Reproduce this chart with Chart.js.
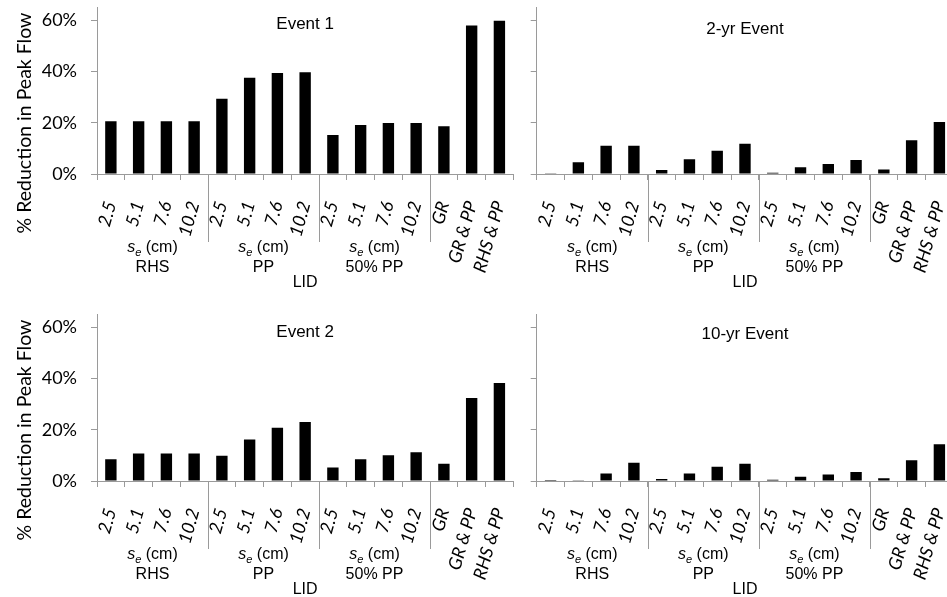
<!DOCTYPE html>
<html>
<head>
<meta charset="utf-8">
<script src="https://cdn.jsdelivr.net/npm/chart.js@4"></script>
<style>
    html, body { margin: 0; padding: 0; background: #fff; overflow: hidden; width: 947px; height: 597px; }
    body { position: relative; }
    canvas { position: absolute; }
</style>
</head>
<body>
<canvas id="event1"></canvas>
<canvas id="yr2"></canvas>
<canvas id="event2"></canvas>
<canvas id="yr10"></canvas>
<script>
const categories = ["2.5", "5.1", "7.6", "10.2", "2.5", "5.1", "7.6", "10.2", "2.5", "5.1", "7.6", "10.2", "GR", "GR & PP", "RHS & PP"];
const groupNames = ["RHS", "PP", "50% PP"];
const groupSizes = [4, 4, 4, 3];
const yTickValues = [0, 20, 40, 60];
const yTitle = "% Reduction in Peak Flow";
const xTitle = "LID";

// % reduction in peak flow
const event1 = [20.6, 20.6, 20.6, 20.6, 29.4, 37.6, 39.4, 39.7, 15.2, 19.1, 19.9, 19.9, 18.6, 58.0, 59.8];
const event2 = [8.5, 10.7, 10.7, 10.7, 9.9, 16.2, 20.8, 23.0, 5.3, 8.5, 10.1, 11.2, 6.7, 32.4, 38.3];
const yr2 = [0.1, 4.6, 11.0, 11.0, 1.6, 5.8, 9.1, 11.8, 0.5, 2.6, 3.9, 5.5, 1.8, 13.2, 20.3];
const yr10 = [0.4, 0.1, 2.9, 7.1, 0.8, 2.9, 5.6, 6.7, 0.5, 1.7, 2.5, 3.5, 1.1, 8.1, 14.3];

const axisGrey = "#9a9a9a";
const labelFont = '"Liberation Sans", Arial, sans-serif';
const tickFont = 'Lato, "Open Sans", sans-serif';

const panelDecor = {
    id: "panelDecor",
    afterDraw(chart, args, opts) {
        const ctx = chart.ctx;
        const x = chart.scales.x;
        const area = chart.chartArea;
        const catW = (x.right - x.left) / categories.length;
        ctx.save();

        // long separators between the LID groups
        ctx.strokeStyle = axisGrey;
        ctx.lineWidth = 1;
        let k = 0;
        groupSizes.slice(0, -1).forEach((n) => {
            k += n;
            const px = Math.round(x.left + k * catW) + 0.5;
            ctx.beginPath();
            ctx.moveTo(px, area.bottom);
            ctx.lineTo(px, area.bottom + 68);
            ctx.stroke();
        });

        // group labels: s_e (cm) and the LID name
        ctx.fillStyle = "#000";
        ctx.textBaseline = "alphabetic";
        let start = 0;
        groupNames.forEach((name, i) => {
            const cx = x.left + (start + groupSizes[i] / 2) * catW;
            start += groupSizes[i];

            const base = area.bottom + 78;
            ctx.font = "italic 16px " + labelFont;
            const ws = ctx.measureText("s").width;
            ctx.font = "italic 11px " + labelFont;
            const we = ctx.measureText("e").width;
            ctx.font = "16px " + labelFont;
            const wc = ctx.measureText(" (cm)").width;
            let px = cx - (ws + we + wc) / 2;
            ctx.textAlign = "left";
            ctx.font = "italic 16px " + labelFont;
            ctx.fillText("s", px, base);
            px += ws;
            ctx.font = "italic 11px " + labelFont;
            ctx.fillText("e", px, base + 4);
            px += we;
            ctx.font = "16px " + labelFont;
            ctx.fillText(" (cm)", px, base);

            ctx.textAlign = "center";
            ctx.fillText(name, cx, area.bottom + 97.5);
        });
        ctx.textAlign = "center";
        ctx.font = "16px " + labelFont;
        ctx.fillText(xTitle, (x.left + x.right) / 2, area.bottom + 112.5);

        // panel title
        ctx.font = "17px " + labelFont;
        ctx.fillText(opts.title, (x.left + x.right) / 2, area.top + opts.titleDy);

        // y axis title (left panels only)
        if (opts.showY) {
            ctx.translate(25, area.top + 115.5);
            ctx.rotate(-Math.PI / 2);
            ctx.textBaseline = "middle";
            ctx.font = "19.5px " + tickFont;
            ctx.fillText(yTitle, 0, 0);
        }
        ctx.restore();
    }
};

function makePanel(id, values, p) {
    const canvas = document.getElementById(id);
    canvas.width = 540;
    canvas.height = 320;
    canvas.style.left = p.left + "px";
    canvas.style.top = p.top + "px";
    const yWidth = p.axisX - p.left;

    return new Chart(canvas.getContext("2d"), {
        type: "bar",
        data: {
            labels: categories,
            datasets: [{
                data: values,
                backgroundColor: "#000",
                borderWidth: 0,
                barPercentage: 0.41,
                categoryPercentage: 1
            }]
        },
        options: {
            responsive: false,
            animation: false,
            devicePixelRatio: 1,
            layout: { padding: { top: 27.5, bottom: 6, left: 0, right: 540 - yWidth - 418 } },
            plugins: {
                legend: { display: false },
                tooltip: { enabled: false },
                panelDecor: { title: p.title, titleDy: p.titleDy, showY: p.showY }
            },
            scales: {
                x: {
                    afterFit: (scale) => { scale.height = 120; },
                    grid: { drawOnChartArea: false, color: axisGrey, tickLength: 6, offset: true },
                    border: { color: axisGrey },
                    ticks: {
                        autoSkip: false,
                        minRotation: 74,
                        maxRotation: 74,
                        padding: 19,
                        color: "#000",
                        font: { family: tickFont, size: 18, style: "italic" }
                    }
                },
                y: {
                    min: 0,
                    max: 65,
                    afterFit: (scale) => { scale.width = yWidth; },
                    afterBuildTicks: (scale) => { scale.ticks = yTickValues.map((v) => ({ value: v })); },
                    grid: { drawOnChartArea: false, color: axisGrey, tickLength: 6 },
                    border: { color: axisGrey },
                    ticks: {
                        display: p.showY,
                        padding: 14,
                        color: "#000",
                        font: { family: tickFont, size: 18 },
                        callback: (v) => v + "%"
                    }
                }
            }
        },
        plugins: [panelDecor]
    });
}

makePanel("event1", event1, { left: 0, top: -20, axisX: 97, title: "Event 1", titleDy: 21.8, showY: true });
makePanel("yr2", yr2, { left: 440, top: -20, axisX: 536.7, title: "2-yr Event", titleDy: 26.8, showY: false });
makePanel("event2", event2, { left: 0, top: 287, axisX: 97, title: "Event 2", titleDy: 22.2, showY: true });
makePanel("yr10", yr10, { left: 440, top: 287, axisX: 536.7, title: "10-yr Event", titleDy: 24.8, showY: false });
</script>
</body>
</html>
